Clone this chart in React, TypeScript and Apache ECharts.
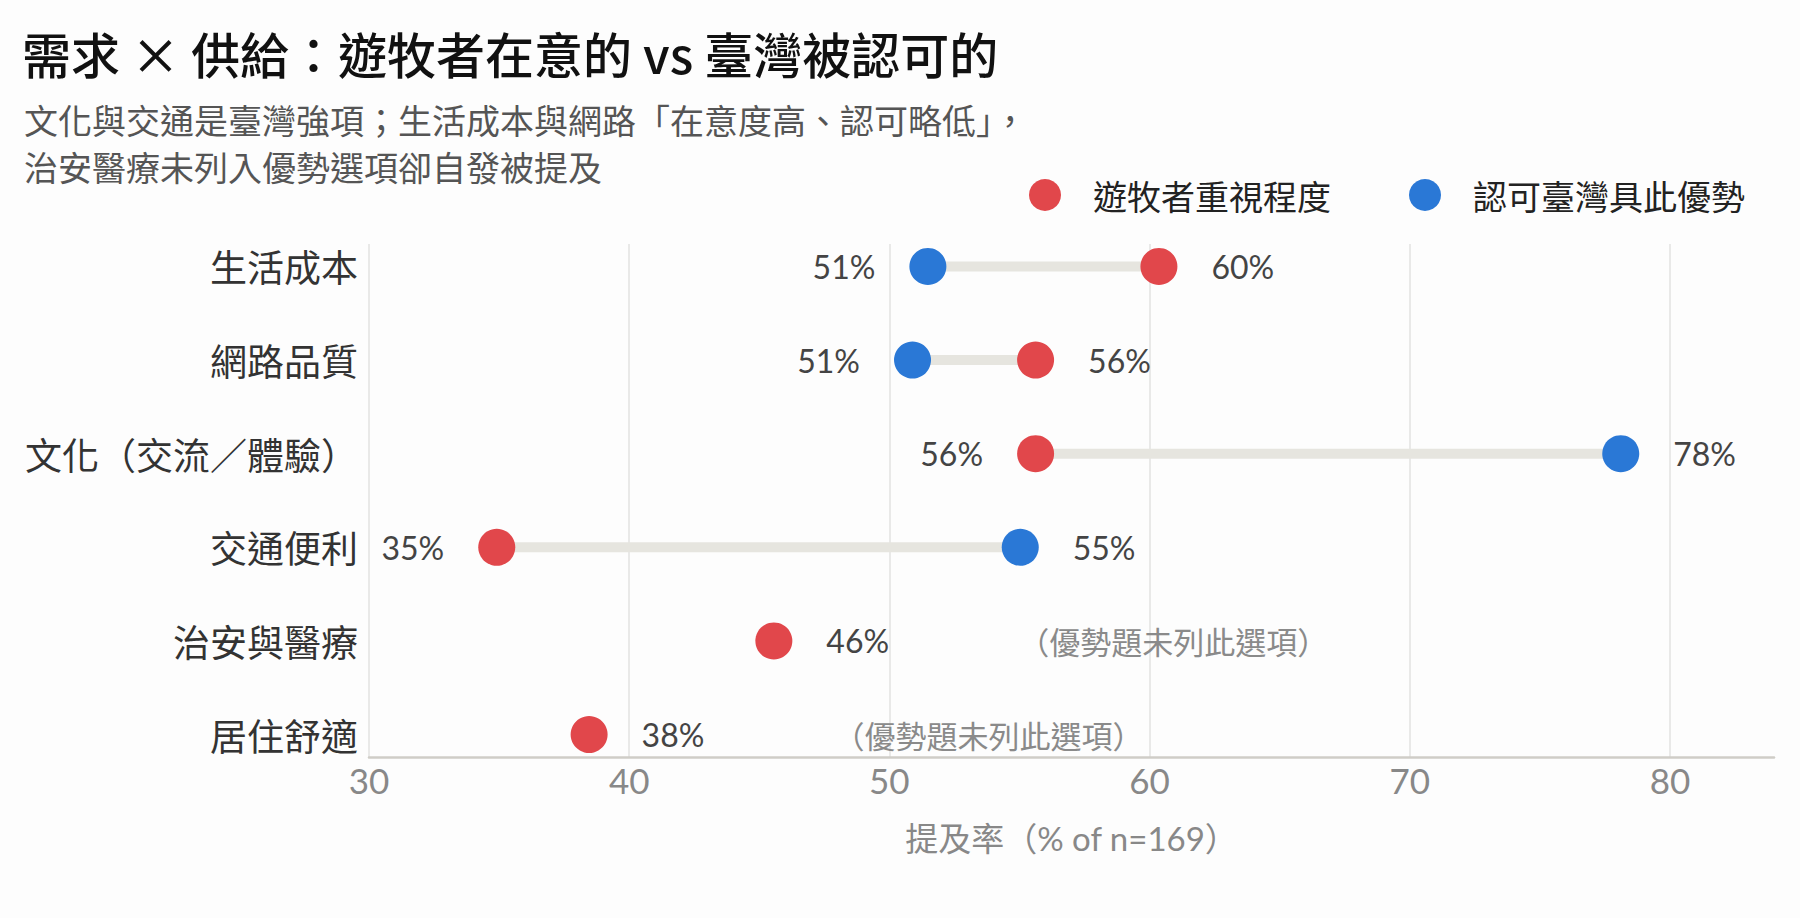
import React, { useEffect, useRef } from 'react';
import * as echarts from 'echarts';

const categories = ['生活成本', '網路品質', '文化（交流／體驗）', '交通便利', '治安與醫療', '居住舒適'];
const demandValues = [60.36, 55.62, 55.62, 34.91, 45.56, 38.46];
const recognizedValues: (number | null)[] = [51.48, 50.89, 78.11, 55.03, null, null];
const xTicks = [30, 40, 50, 60, 70, 80];
const seriesNames = ['遊牧者重視程度', '認可臺灣具此優勢'];
const noteText = '（優勢題未列此選項）';
const titleText = '需求 × 供給：遊牧者在意的 vs 臺灣被認可的';
const subtitleLines = [
  '文化與交通是臺灣強項；生活成本與網路「在意度高、認可略低」，',
  '治安醫療未列入優勢選項卻自發被提及',
];
const xAxisName = '提及率（% of n=169）';

const RED = '#e1474b';
const BLUE = '#2a78d6';
const LATIN = 'Lato, "Noto Sans CJK TC", sans-serif';
const CJK = '"Noto Sans CJK TC", "Noto Sans", sans-serif';

const pct = (v: number) => `${Math.round(v)}%`;

export default function App() {
  const ref = useRef<HTMLDivElement>(null);

  useEffect(() => {
    if (!ref.current) return;
    const chart = echarts.init(ref.current, undefined, { renderer: 'svg' });

    const connectorData = categories
      .map((_, i) =>
        recognizedValues[i] == null ? null : [i, demandValues[i], recognizedValues[i] as number]
      )
      .filter((d) => d !== null);

    const labelBase = {
      show: true,
      distance: 34,
      fontFamily: LATIN,
      fontSize: 32,
      color: '#444',
    };

    const demandData = demandValues.map((v, i) => {
      const r = recognizedValues[i];
      if (r == null) {
        return {
          value: [v, i],
          label: {
            ...labelBase,
            position: 'right',
            formatter: `{p|${pct(v)}}{n|${noteText}}`,
            rich: {
              p: { width: 192, fontFamily: LATIN, fontSize: 32, color: '#444' },
              n: { fontFamily: CJK, fontSize: 31, color: '#8a8a8a' },
            },
          },
        };
      }
      return {
        value: [v, i],
        label: { ...labelBase, position: v >= r ? 'right' : 'left', formatter: pct(v) },
      };
    });

    const recognizedData = recognizedValues
      .map((r, i) => {
        if (r == null) return null;
        const v = demandValues[i];
        return {
          value: [r, i],
          label: { ...labelBase, position: r > v ? 'right' : 'left', formatter: pct(r) },
        };
      })
      .filter((d) => d !== null);

    const legendColors = [RED, BLUE];
    const legendDotX = [1045, 1425];
    const legendY = 195;

    chart.setOption({
      animation: false,
      backgroundColor: '#fdfdfd',
      title: [
        {
          text: titleText,
          left: 17,
          top: 19,
          textStyle: { fontFamily: CJK, fontSize: 49, fontWeight: 500, color: '#111', lineHeight: 56 },
        },
        {
          text: subtitleLines.join('\n'),
          left: 19,
          top: 91,
          textStyle: { fontFamily: CJK, fontSize: 34, fontWeight: 'normal', color: '#555', lineHeight: 47 },
        },
      ],
      graphic: seriesNames.flatMap((name, i) => [
        {
          type: 'circle',
          shape: { cx: legendDotX[i], cy: legendY, r: 16 },
          style: { fill: legendColors[i] },
        },
        {
          type: 'text',
          x: legendDotX[i] + 48,
          y: legendY,
          style: {
            text: name,
            fontFamily: CJK,
            fontSize: 34,
            fill: '#222',
            verticalAlign: 'middle',
            align: 'left',
          },
        },
      ]),
      grid: { left: 369, right: 26, top: 244, bottom: 161, containLabel: false },
      xAxis: {
        type: 'value',
        min: 30,
        max: 84,
        interval: 10,
        name: xAxisName,
        nameLocation: 'middle',
        nameGap: 64,
        nameTextStyle: { fontFamily: LATIN, fontSize: 33, color: '#888' },
        axisLine: { show: true, onZero: false, lineStyle: { color: '#cfcdc7', width: 2.5 } },
        axisTick: { show: false },
        axisLabel: {
          fontFamily: LATIN,
          fontSize: 35,
          color: '#888',
          margin: 5,
          customValues: xTicks,
        },
        splitLine: { show: true, showMaxLine: false, lineStyle: { color: '#e2e2e0', width: 1.5 } },
      },
      yAxis: {
        type: 'value',
        min: -0.24,
        max: 5.24,
        inverse: true,
        axisLine: { show: false },
        axisTick: { show: false },
        splitLine: { show: false },
        axisLabel: {
          customValues: categories.map((_, i) => i),
          formatter: (v: number) => categories[Math.round(v)] ?? '',
          fontFamily: CJK,
          fontSize: 37,
          color: '#333',
          margin: 11,
        },
      },
      series: [
        {
          type: 'custom',
          name: 'connector',
          silent: true,
          z: 1,
          encode: { x: [1, 2], y: 0 },
          data: connectorData,
          renderItem: (_params: any, api: any) => {
            const y = api.value(0);
            const p1 = api.coord([api.value(1), y]);
            const p2 = api.coord([api.value(2), y]);
            return {
              type: 'line',
              shape: { x1: p1[0], y1: p1[1], x2: p2[0], y2: p2[1] },
              style: { stroke: '#e6e5df', lineWidth: 10 },
            };
          },
        },
        {
          type: 'scatter',
          name: seriesNames[0],
          z: 3,
          symbol: 'circle',
          symbolSize: 37,
          itemStyle: { color: RED, opacity: 1 },
          data: demandData,
        },
        {
          type: 'scatter',
          name: seriesNames[1],
          z: 3,
          symbol: 'circle',
          symbolSize: 37,
          itemStyle: { color: BLUE, opacity: 1 },
          data: recognizedData,
        },
      ],
    });

    return () => chart.dispose();
  }, []);

  return (
    <div
      ref={ref}
      style={{ position: 'fixed', left: 0, top: 0, width: 1800, height: 918, background: '#fdfdfd' }}
    />
  );
}
